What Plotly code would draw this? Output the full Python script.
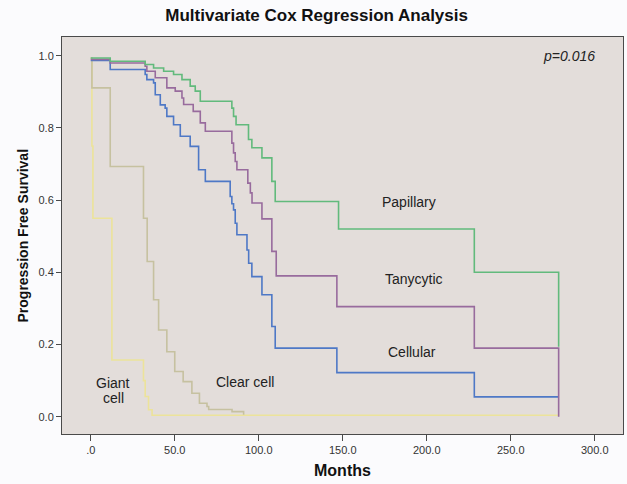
import plotly.graph_objects as go

# ---- data ----
papillary_months = [0, 11.6, 32.4, 37.4, 43.4, 49.3, 54.3, 59.2, 62.2, 65.2, 84.0, 85.0, 86.5, 93.9, 95.9, 101.9, 107.8, 109.8, 147.5, 228.3, 278.5]
papillary_surv = [0.994, 0.985, 0.976, 0.966, 0.957, 0.948, 0.934, 0.916, 0.902, 0.874, 0.855, 0.832, 0.809, 0.768, 0.745, 0.717, 0.652, 0.596, 0.520, 0.400, 0.194]

tanycytic_months = [0, 11.6, 32.4, 33.4, 38.4, 45.3, 50.3, 54.3, 55.3, 61.0, 65.2, 68.2, 84.0, 85.0, 86.0, 87.0, 93.5, 95.0, 96.0, 101.9, 107.8, 110.4, 146.5, 228.3, 278.5]
tanycytic_surv = [0.990, 0.980, 0.971, 0.957, 0.939, 0.911, 0.902, 0.883, 0.865, 0.846, 0.814, 0.791, 0.758, 0.731, 0.707, 0.684, 0.647, 0.620, 0.592, 0.548, 0.458, 0.390, 0.305, 0.190, 0.0]

cellular_months = [0, 11.6, 32.4, 33.4, 37.4, 38.4, 41.4, 44.3, 45.3, 49.3, 53.3, 59.2, 64.2, 68.2, 83.0, 84.0, 85.0, 86.0, 87.0, 93.0, 94.0, 95.9, 101.9, 107.8, 109.8, 146.5, 228.3, 278.5]
cellular_surv = [0.987, 0.962, 0.948, 0.934, 0.925, 0.892, 0.864, 0.855, 0.832, 0.809, 0.777, 0.749, 0.684, 0.652, 0.610, 0.590, 0.573, 0.536, 0.504, 0.462, 0.425, 0.388, 0.338, 0.250, 0.190, 0.122, 0.055, 0.055]

clear_months = [0, 0.7, 11.6, 31.4, 33.6, 37.4, 40.4, 45.3, 50.0, 55.0, 60.2, 64.7, 69.2, 70.2, 84.1, 91.0]
clear_surv = [0.994, 0.911, 0.693, 0.550, 0.430, 0.324, 0.240, 0.180, 0.125, 0.097, 0.065, 0.037, 0.028, 0.020, 0.014, 0.005]

giant_months = [0, 0.7, 1.3, 12.6, 31.4, 32.4, 34.4, 36.5, 278.5]
giant_surv = [0.994, 0.750, 0.550, 0.157, 0.100, 0.056, 0.019, 0.004, 0.004]

x_tickvals = [0, 50, 100, 150, 200, 250, 300]
x_ticktext = [".0", "50.0", "100.0", "150.0", "200.0", "250.0", "300.0"]
y_tickvals = [0, 0.2, 0.4, 0.6, 0.8, 1.0]
y_ticktext = ["0.0", "0.2", "0.4", "0.6", "0.8", "1.0"]

series = [
    ("Giant cell", giant_months, giant_surv, "#ECE39A"),
    ("Clear cell", clear_months, clear_surv, "#C6C1A0"),
    ("Cellular", cellular_months, cellular_surv, "#4E78C6"),
    ("Tanycytic", tanycytic_months, tanycytic_surv, "#986B9D"),
    ("Papillary", papillary_months, papillary_surv, "#62BA7C"),
]

FONT = "Liberation Sans, Arial, sans-serif"

fig = go.Figure()
for name, xs, ys, col in series:
    fig.add_trace(go.Scatter(x=xs, y=ys, mode="lines", line=dict(shape="hv", color=col, width=1.6),
                             name=name, showlegend=False, hoverinfo="skip"))

labels = [
    ("Papillary", 189.6, 0.596),
    ("Tanycytic", 192.5, 0.382),
    ("Cellular", 191.4, 0.180),
    ("Clear cell", 92.0, 0.097),
    ("Giant", 13.4, 0.093),
    ("cell", 13.4, 0.051),
]
annotations = []
for txt, xv, yv in labels:
    annotations.append(dict(x=xv, y=yv, xref="x", yref="y", text=txt, showarrow=False,
                            font=dict(family=FONT, size=14, color="#222222")))
annotations.append(dict(x=284.8, y=1.0, xref="x", yref="y", text="<i>p=0.016</i>", showarrow=False,
                        font=dict(family=FONT, size=14, color="#222222")))
annotations.append(dict(x=0.5, y=-0.093, xref="paper", yref="paper", text="<b>Months</b>", showarrow=False,
                        font=dict(family=FONT, size=16, color="#111111"), yanchor="middle"))
annotations.append(dict(x=-0.0713, y=0.5, xref="paper", yref="paper", text="<b>Progression Free Survival</b>",
                        showarrow=False, textangle=-90, font=dict(family=FONT, size=14, color="#111111"),
                        xanchor="center", yanchor="middle"))

fig.update_layout(
    width=627, height=484,
    margin=dict(l=62, r=4, t=37, b=50),
    paper_bgcolor="#FBFBFD",
    plot_bgcolor="#E3DDDA",
    title=dict(text="<b>Multivariate Cox Regression Analysis</b>", x=0.505, xanchor="center",
               y=1 - 15 / 484, yanchor="middle", yref="container",
               font=dict(family=FONT, size=17, color="#111111")),
    annotations=annotations,
    showlegend=False,
)
fig.update_xaxes(range=[-17.1, 316.8], tickvals=x_tickvals, ticktext=x_ticktext, showgrid=False, zeroline=False,
                 showline=True, mirror=True, linecolor="#4a4a4a", linewidth=1, ticks="outside", ticklen=6,
                 tickcolor="#4a4a4a", tickfont=dict(family=FONT, size=11, color="#333333"))
fig.update_yaxes(range=[-0.048, 1.052], tickvals=y_tickvals, ticktext=y_ticktext, showgrid=False, zeroline=False,
                 showline=True, mirror=True, linecolor="#4a4a4a", linewidth=1, ticks="outside", ticklen=5,
                 tickcolor="#4a4a4a", tickfont=dict(family=FONT, size=11, color="#333333"))

fig.write_html("out.html", config={"displayModeBar": False},
               post_script="document.body.style.margin='0px';document.body.style.background='#FBFBFD';")
